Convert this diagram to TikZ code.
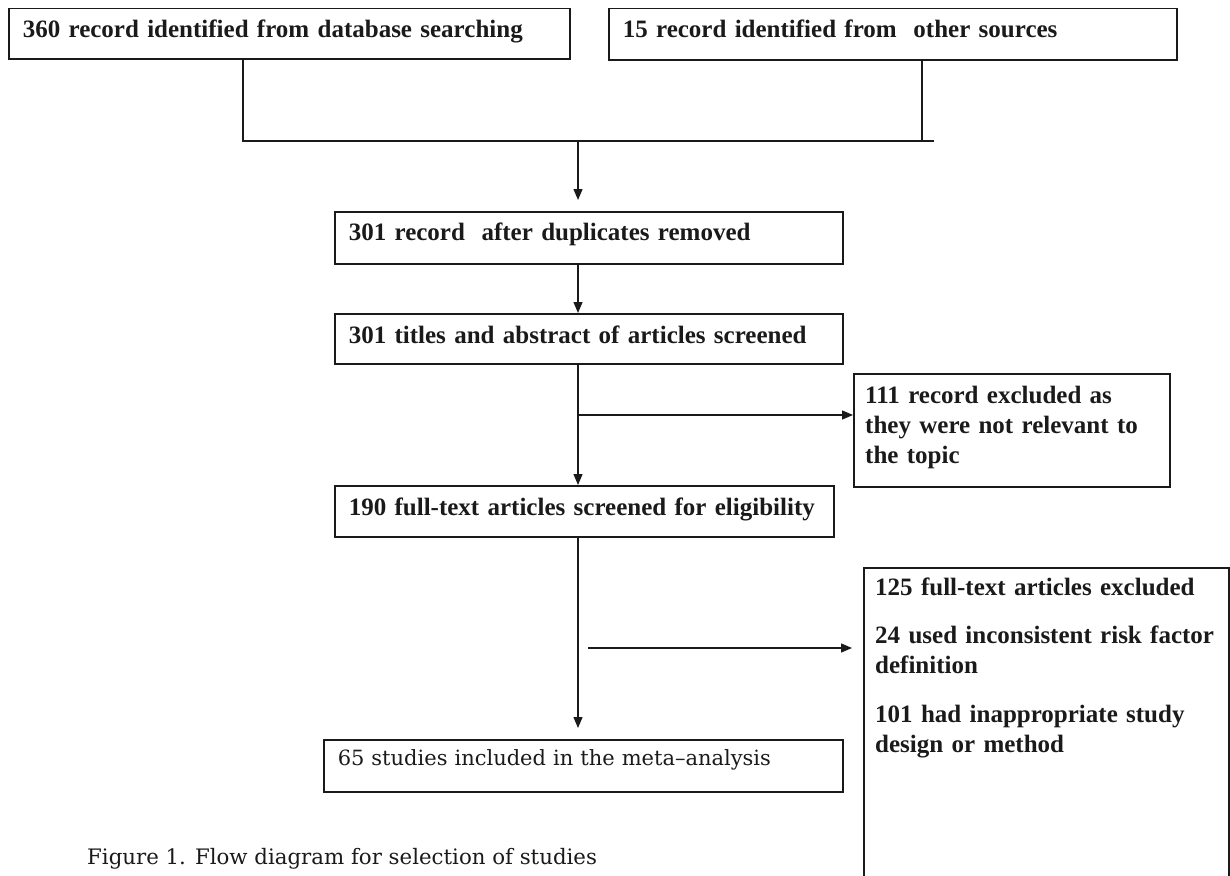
\documentclass[tikz,border=0pt]{standalone}
\usepackage{fontspec}
\setmainfont{Liberation Serif}
\newfontfamily\capfont{DejaVu Serif}
\usetikzlibrary{arrows.meta}
\definecolor{ink}{HTML}{1A1A1A}
\tikzset{
  flowbox/.style={draw=ink, line width=1.5pt, anchor=north west, inner xsep=14pt, inner ysep=0pt,
    align=left, font=\bfseries\fontsize{25}{30}\selectfont, text=ink},
  plainbox/.style={draw=ink, line width=1.5pt, anchor=north west, inner sep=0pt},
  boxtext/.style={anchor=base west, inner sep=0pt, align=left, font=\bfseries\fontsize{25}{30}\selectfont, text=ink},
  conn/.style={draw=ink, line width=1.3pt},
  arr/.style={conn, -{Triangle[length=11pt,width=9pt]}}
}
\begin{document}
\begin{tikzpicture}[x=1pt,y=-1pt]
\useasboundingbox (0,0) rectangle (1230,875);
% boxes
\node[flowbox, text width=533pt, text height=29pt, text depth=21pt] (A) at (8,8)
  {360 record identified from database searching};
\node[flowbox, text width=540pt, text height=29pt, text depth=22pt] (B) at (608,8)
  {15 record identified from\ \ other sources};
\node[flowbox, text width=480pt, text height=29pt, text depth=23pt] (C) at (334,211)
  {301 record\ \ after duplicates removed};
\node[flowbox, text width=480pt, text height=30pt, text depth=20pt] (D) at (334,313)
  {301 titles and abstract of articles screened};
\node[plainbox, minimum width=316pt, minimum height=113pt] (E) at (853,373) {};
\node[boxtext, text width=300pt] (Et) at (865,403)
  {111 record excluded as\\they were not relevant to\\the topic};
\node[flowbox, text width=471pt, text height=30pt, text depth=21pt] (G) at (334,485)
  {190 full-text articles screened for eligibility};
\node[plainbox, minimum width=365pt, minimum height=330pt] (F) at (863,567) {};
\node[boxtext, text width=345pt] (Ft) at (875,595)
  {125 full-text articles excluded\\[18pt]24 used inconsistent risk factor\\definition\\[19pt]101 had inappropriate study\\design or method};
\node[flowbox, font=\capfont\fontsize{21}{26}\selectfont, text width=491pt, text height=26pt, text depth=26pt] (H) at (323,739)
  {65 studies included in the meta–analysis};
\node[anchor=base west, inner sep=0pt, text=ink, font=\capfont\fontsize{21.3}{26}\selectfont] (cap) at (87,864)
  {Figure 1. Flow diagram for selection of studies};
% junction coordinates
\coordinate (jl) at (243,141);
\coordinate (jr) at (922,141);
\coordinate (jend) at (934,141);
\coordinate (jm) at (578,141);
\coordinate (cin) at (578,200);
\coordinate (br1) at (578,415);
\coordinate (fstart) at (588,648);
\coordinate (fend) at (852,648);
\coordinate (hin) at (578,728);
% connectors
\draw[conn] (A.south -| jl) -- (jl) -- (jend);
\draw[conn] (B.south -| jr) -- (jr);
\draw[arr] (jm) -- (cin);
\draw[arr] (C.south -| jm) -- (D.north -| jm);
\draw[arr] (D.south -| jm) -- (G.north -| jm);
\draw[arr] (br1) -- (E.west |- br1);
\draw[arr] (G.south -| jm) -- (hin);
\draw[arr] (fstart) -- (fend);
\end{tikzpicture}
\end{document}
